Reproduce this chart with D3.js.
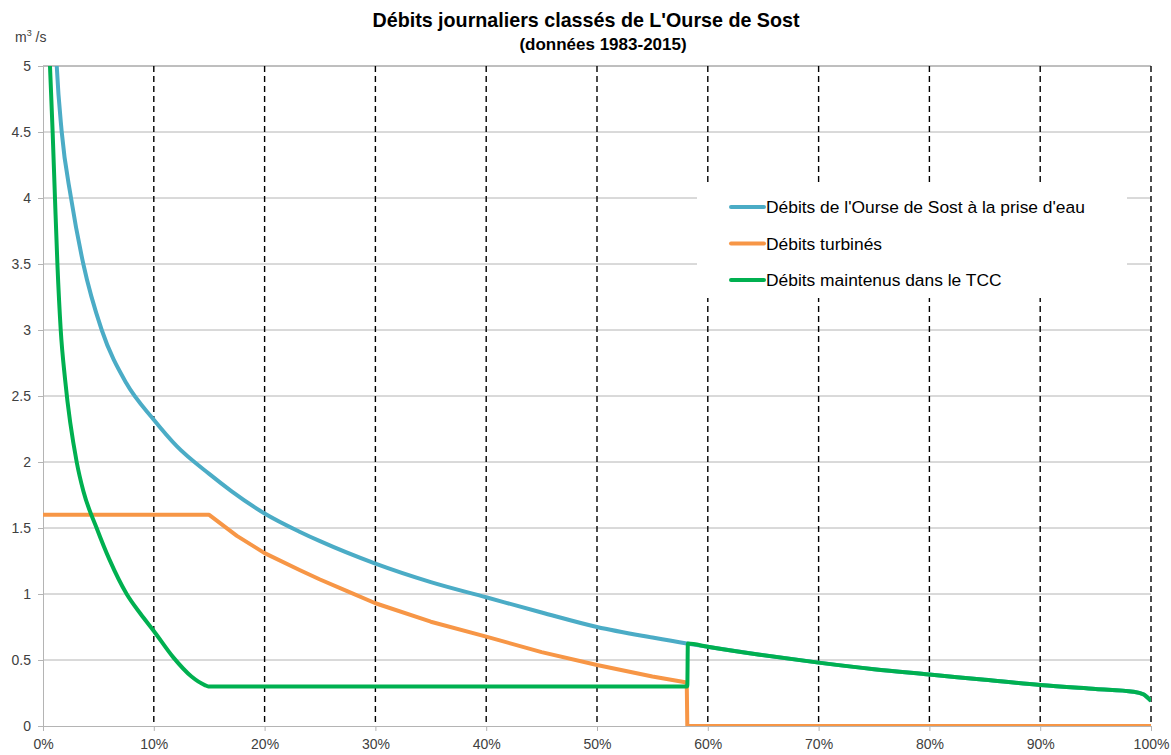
<!DOCTYPE html>
<html>
<head>
<meta charset="utf-8">
<script src="https://cdn.jsdelivr.net/npm/d3@7"></script>
<style>
  body { margin: 0; background: #fff; }
</style>
</head>
<body>
<svg id="chart" width="1171" height="755"></svg>
<script>
// percentages of time (%) and flows (m3/s)
var bluePct = [0.8, 1.24, 1.69, 2.53, 3.64, 5.3, 7.5, 10, 12.07, 15, 17, 20, 23.2, 25, 30, 35, 40, 45, 50, 55, 58.1, 60, 64.7, 70, 75, 80, 85, 90, 95, 98.4, 99.3, 100];
var blueVal = [6.0, 5.0, 4.5, 4.0, 3.5, 3.0, 2.6, 2.32, 2.12, 1.91, 1.78, 1.61, 1.47, 1.40, 1.23, 1.09, 0.975, 0.86, 0.75, 0.67, 0.625, 0.60, 0.54, 0.48, 0.43, 0.39, 0.35, 0.31, 0.28, 0.26, 0.24, 0.19];

var orangePct = [0, 15, 17.5, 20, 23.2, 25, 27.5, 30, 35, 40, 45, 50, 55, 58.1, 58.15, 100];
var orangeVal = [1.6, 1.6, 1.44, 1.31, 1.18, 1.11, 1.02, 0.93, 0.79, 0.677, 0.56, 0.462, 0.375, 0.33, 0, 0];

var greenPct = [0.4, 0.63, 0.87, 1.08, 1.3, 1.6, 2.0, 3.04, 3.64, 4.84, 6.0, 7.55, 8.8, 10, 11.76, 13.4, 14.6, 14.92, 58.15, 58.2, 60, 64.7, 70, 75, 80, 85, 90, 95, 98.4, 99.3, 100];
var greenVal = [5.5, 5.0, 4.5, 4.0, 3.5, 3.0, 2.62, 2.0, 1.78, 1.5, 1.26, 1.0, 0.85, 0.72, 0.52, 0.375, 0.31, 0.3, 0.3, 0.625, 0.60, 0.54, 0.48, 0.43, 0.39, 0.35, 0.31, 0.28, 0.26, 0.24, 0.19];

var yTicks = [0, 0.5, 1, 1.5, 2, 2.5, 3, 3.5, 4, 4.5, 5];
var xTicks = [0, 10, 20, 30, 40, 50, 60, 70, 80, 90, 100];

var seriesNames = ["Débits de l'Ourse de Sost à la prise d'eau", "Débits turbinés", "Débits maintenus dans le TCC"];
var seriesColors = ["#4bacc6", "#f79646", "#00b050"];

var font = "Liberation Sans, Arial, sans-serif";

function zip(xs, ys) {
    return xs.map(function (x, i) { return { x: x, y: ys[i] }; });
}
var series = [zip(bluePct, blueVal), zip(orangePct, orangeVal), zip(greenPct, greenVal)];

var svg = d3.select("#chart").style("font-family", font);
var margin = { top: 66, right: 20, bottom: 29, left: 43 };
var width = 1171 - margin.left - margin.right,
    height = 755 - margin.top - margin.bottom;

var g = svg.append("g").attr("transform", "translate(" + margin.left + "," + margin.top + ")");

var x = d3.scaleLinear().domain([0, 100]).range([0, width]);
var y = d3.scaleLinear().domain([0, 5]).range([height, 0]);

// horizontal gridlines
g.append("g")
    .selectAll("line")
    .data(yTicks.filter(function (d) { return d > 0; }))
    .join("line")
    .attr("x1", 0)
    .attr("x2", width)
    .attr("y1", d => y(d))
    .attr("y2", d => y(d))
    .attr("stroke", d => d == 5 ? "#7f7f7f" : "#b4b4b4")
    .attr("stroke-width", 1);

// vertical dashed lines
g.append("g")
    .selectAll("line")
    .data(xTicks.filter(function (d) { return d > 0; }))
    .join("line")
    .attr("x1", d => x(d))
    .attr("x2", d => x(d))
    .attr("y1", 0)
    .attr("y2", height)
    .attr("stroke", "#000")
    .attr("stroke-width", 1.4)
    .attr("stroke-dasharray", "6,4");

// axes
var yAxis = g.append("g")
    .call(d3.axisLeft(y).tickValues(yTicks).tickSize(5).tickPadding(7).tickFormat(d3.format("")));
var xAxis = g.append("g")
    .attr("transform", "translate(0," + height + ")")
    .call(d3.axisBottom(x).tickValues(xTicks).tickSize(5).tickPadding(8).tickFormat(d => d + "%"));

[yAxis, xAxis].forEach(function (a) {
    a.select(".domain").attr("stroke", "#b4b4b4");
    a.selectAll(".tick line").attr("stroke", "#b4b4b4");
    a.selectAll(".tick text")
        .attr("fill", "#404040")
        .attr("font-size", 14)
        .attr("font-family", font);
});

// legend box (white, hides grid behind it)
var legend = g.append("g").attr("transform", "translate(" + (697 - margin.left) + "," + (183 - margin.top) + ")");
legend.append("rect")
    .attr("width", 430)
    .attr("height", 115)
    .attr("fill", "#fff");

var leg = legend.selectAll("g.item")
    .data(seriesNames)
    .join("g")
    .attr("class", "item")
    .attr("transform", (d, i) => "translate(0," + (24 + i * 36.5) + ")");
leg.append("line")
    .attr("x1", 34)
    .attr("x2", 67)
    .attr("stroke", (d, i) => seriesColors[i])
    .attr("stroke-width", 4)
    .attr("stroke-linecap", "round");
leg.append("text")
    .attr("x", 69)
    .attr("dy", "0.36em")
    .attr("font-size", 17.4)
    .attr("fill", "#000")
    .text(d => d);

// curves
svg.append("defs").append("clipPath").attr("id", "plot-clip")
    .append("rect").attr("width", width).attr("height", height);

// orange has sharp corners, the other two are smooth
var curves = [d3.curveMonotoneX, d3.curveLinear, d3.curveMonotoneX];

g.append("g")
    .attr("clip-path", "url(#plot-clip)")
    .selectAll("path")
    .data(series)
    .join("path")
    .attr("d", (d, i) => d3.line()
        .x(p => x(p.x))
        .y(p => y(p.y))
        .curve(curves[i])(d))
    .attr("fill", "none")
    .attr("stroke", (d, i) => seriesColors[i])
    .attr("stroke-width", 4)
    .attr("stroke-linejoin", "round");

// titles
svg.append("text")
    .attr("x", 586)
    .attr("y", 27)
    .attr("text-anchor", "middle")
    .attr("font-weight", "bold")
    .attr("font-size", 19.7)
    .attr("fill", "#000")
    .text("Débits journaliers classés de L'Ourse de Sost");

svg.append("text")
    .attr("x", 603)
    .attr("y", 50)
    .attr("text-anchor", "middle")
    .attr("font-weight", "bold")
    .attr("font-size", 17)
    .attr("fill", "#000")
    .text("(données 1983-2015)");

var unit = svg.append("text")
    .attr("x", 15)
    .attr("y", 42)
    .attr("font-size", 14)
    .attr("fill", "#404040");
unit.append("tspan").text("m");
unit.append("tspan").attr("font-size", 9).attr("dy", -6).text("3");
unit.append("tspan").attr("dy", 6).text(" /s");
</script>
</body>
</html>
